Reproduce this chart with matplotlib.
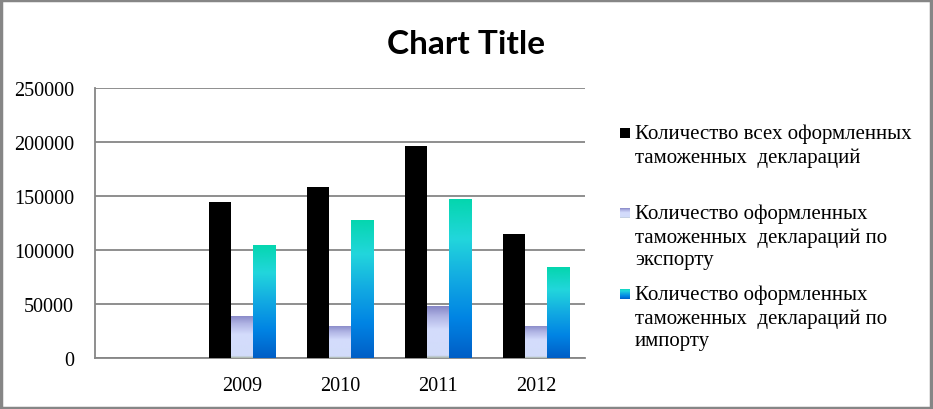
import numpy as np
import matplotlib.pyplot as plt
from matplotlib.colors import LinearSegmentedColormap
from matplotlib.patches import Rectangle

years = ['', '2009', '2010', '2011', '2012']
total = [np.nan, 144000, 158000, 196000, 115000]
export = [np.nan, 39000, 30000, 48000, 30000]
imports = [np.nan, 105000, 128000, 147000, 84000]

labels = ['Количество всех оформленных\nтаможенных  деклараций',
          'Количество оформленных\nтаможенных  деклараций по\nэкспорту',
          'Количество оформленных\nтаможенных  деклараций по\nимпорту']

# gradients go bottom -> top
export_cmap = LinearSegmentedColormap.from_list('exp', [
    (0.0, '#a8b4a4'), (0.05, '#d2dcfa'), (0.55, '#d4dcfc'), (0.8, '#b0b4e4'), (1.0, '#8686c6')])
import_cmap = LinearSegmentedColormap.from_list('imp', [
    (0.0, '#005ec6'), (0.25, '#0084e4'), (0.5, '#12aae2'), (0.75, '#22d6dc'), (1.0, '#04d6ae')])

plt.rcParams['font.family'] = ['Liberation Serif', 'DejaVu Serif']

fig = plt.figure(figsize=(9.33, 4.10), dpi=100)
ax = fig.add_axes([95 / 933, 51 / 410, 490 / 933, 270 / 410])

x = np.arange(len(years))
w = 0.2245
grad = np.linspace(0, 1, 256).reshape(-1, 1)

ax.bar(x - w, total, w, color='black', zorder=3)
for offs, vals, cmap in [(0, export, export_cmap), (w, imports, import_cmap)]:
    bars = ax.bar(x + offs, vals, w, color='none', zorder=3)
    for b, v in zip(bars, vals):
        if np.isnan(v):
            continue
        im = ax.imshow(grad, cmap=cmap, origin='lower', aspect='auto', zorder=3,
                       extent=(b.get_x(), b.get_x() + w, 0, v))
        im.set_clip_path(b)

ax.set_xlim(-0.5, len(years) - 0.5)
ax.set_ylim(0, 250000)
ax.set_yticks(np.arange(0, 250001, 50000))
ax.set_xticks(x)
ax.set_xticklabels(years)
ax.tick_params(length=0, labelsize=14.5, colors='black')
ax.tick_params(axis='y', pad=15)
ax.tick_params(axis='x', pad=13)
ax.yaxis.grid(True, color='#868686', linewidth=1.3, zorder=0)
ax.set_axisbelow(True)
for s in ['top', 'right']:
    ax.spines[s].set_visible(False)
for s in ['left', 'bottom']:
    ax.spines[s].set_color('#868686')
    ax.spines[s].set_linewidth(1.3)

fig.text(466 / 933, 1 - 44 / 410, 'Chart Title', ha='center', va='center',
         fontsize=24, fontweight='bold', family=['Lato', 'DejaVu Sans'])

# legend drawn by hand so the wrapped labels sit like the original
leg_y = [134, 214, 295]
leg_colors = [None, export_cmap, import_cmap]
for y, lab, cm in zip(leg_y, labels, leg_colors):
    lax = fig.add_axes([620 / 933, 1 - (y + 5) / 410, 10 / 933, 10 / 410])
    lax.set_axis_off()
    if cm is None:
        lax.add_patch(Rectangle((0, 0), 1, 1, color='black'))
        lax.set_xlim(0, 1)
        lax.set_ylim(0, 1)
    else:
        lax.imshow(grad, cmap=cm, origin='lower', aspect='auto', extent=(0, 1, 0, 1))
    fig.text(635 / 933, 1 - (y - 9) / 410, lab, ha='left', va='top',
             fontsize=15, linespacing=1.25)

fig.patches.append(Rectangle((0.001, 0.002), 0.997, 0.995, transform=fig.transFigure,
                             fill=False, edgecolor='#868686', linewidth=2.5))

fig.savefig('out.png', dpi=100)
